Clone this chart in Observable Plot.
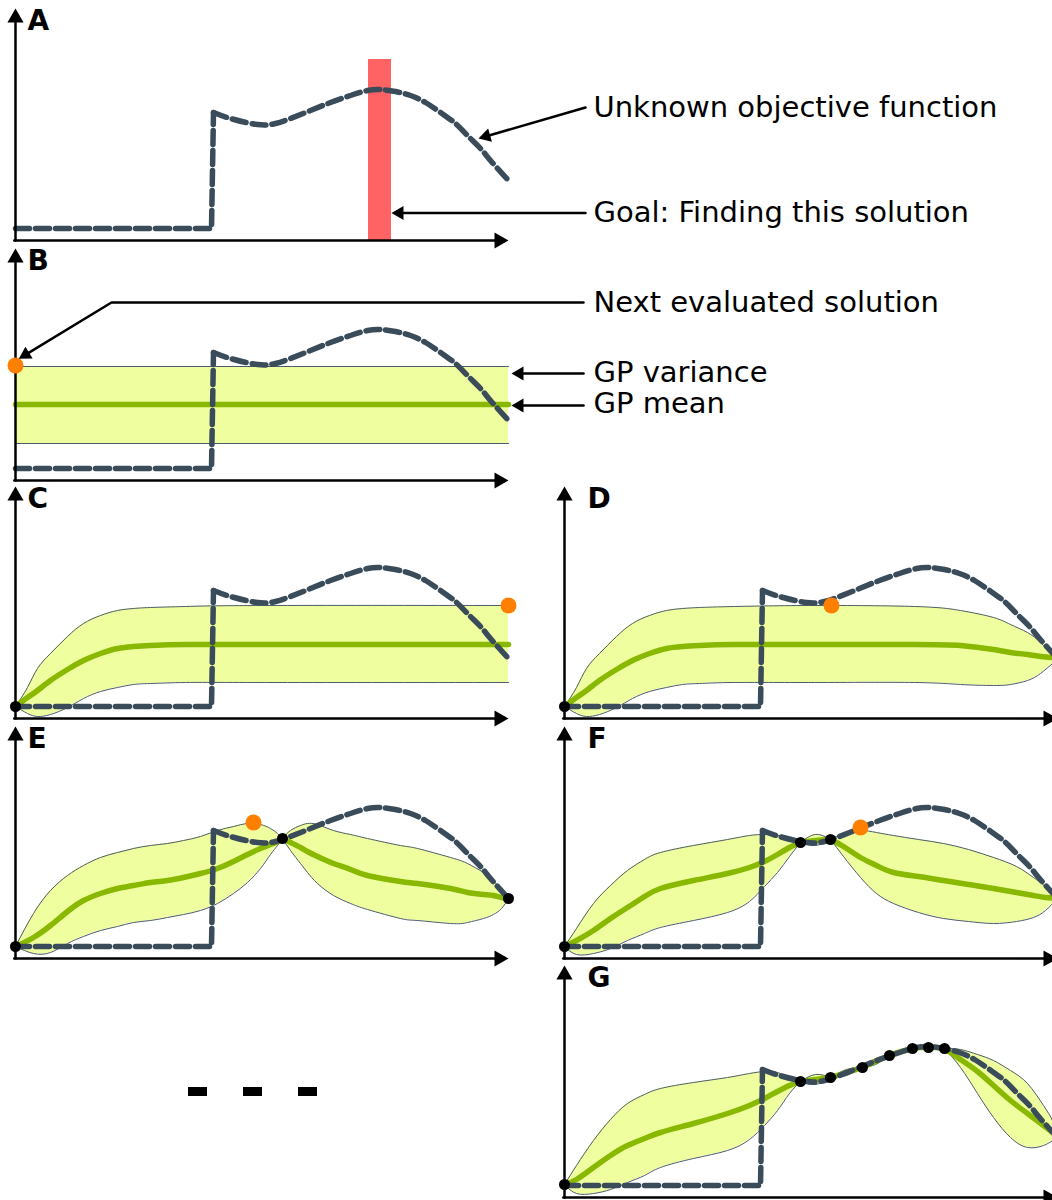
<!DOCTYPE html>
<html><head><meta charset="utf-8">
<script src="https://cdn.jsdelivr.net/npm/d3@7"></script>
<script src="https://cdn.jsdelivr.net/npm/@observablehq/plot@0.6"></script>
<style>
html,body{margin:0;padding:0;background:#fff;overflow:hidden}
#root{position:relative;width:1052px;height:1200px;overflow:hidden;background:#fff}
#root > div{position:absolute;line-height:0}
#root svg{max-width:none !important}
</style></head><body><div id="root"></div>
<script>
// ---------------- data (x: design-space units 0..493, y: objective units above the axis) ----------------
const objStepX = [0, 196, 198];
const objStepY = [12, 12, 128];
const objX = [198, 215, 242, 260, 275, 295, 315, 335, 352, 365, 380, 395, 410, 425, 440, 452, 465, 475, 493];
const objY = [128, 122, 116, 117, 122, 130, 138, 145, 150, 151, 149, 145, 138, 128, 117, 105, 92, 80, 60];
const goalX = [353, 376];
const goalTop = 181;

// GP rows: [x, lower, mean, upper]
const B_band = [[0, 37, 76, 114], [493, 37, 76, 114]];
const C_band = [[0,12,12,12],[12,5,21,31],[22,2,28,50],[35,4,38,65],[52,11,49,82],[68,20,58,95],[85,27,65,103],[102,31,70,108],[118,34,72,110],[135,35,73,111],[170,36,74,112],[250,36,74,113],[493,36,74,113]];
const D_band = [[0,12,12,12],[12,5,21,31],[22,2,28,50],[35,4,38,65],[52,11,49,82],[68,20,58,95],[85,27,65,103],[102,31,70,108],[118,34,72,110],[135,35,73,111],[170,36,74,112],[250,36,74,113],[350,36,74,112],[396,34,73,108],[429,33,69,101],[446,34,66,94],[463,38,64,86],[476,45,62,76],[488,55,61,64],[493,60,60,60]];
const E_seg1 = [[0,12,12,12],[18,5,21,45],[35,6,33,68],[52,15,47,83],[68,22,58,93],[85,28,65,101],[102,32,70,106],[118,36,73,110],[135,38,76,113],[152,41,78,115],[168,44,81,118],[185,48,85,122],[202,55,90,128],[218,65,97,132],[232,76,104,135],[245,90,110,134],[255,104,114,130],[262,113,117,125],[267,120,120,120]];
const E_seg2 = [[267,120,120,120],[275,108,116,128],[285,95,111,133],[292,86,107,135],[302,75,102,134],[318,63,95,128],[335,55,89,124],[352,49,83,120],[385,40,77,113],[402,38,75,110],[435,35,70,101],[452,36,66,95],[468,40,64,86],[478,44,63,78],[486,50,61,68],[493,60,60,60]];
const F_seg1 = [[0,12,12,12],[12,4,18,30],[29,5,28,55],[46,10,40,73],[63,18,51,88],[80,25,62,99],[96,31,70,106],[129,38,78,113],[163,46,85,119],[185,57,91,123],[200,72,97,124],[213,86,104,123],[225,102,111,120],[236,116,116,116]];
const F_seg2 = [[236,116,116,116],[251,113,118,124],[266,119,119,119]];
const F_seg3 = [[266,119,119,119],[279,102,112,125],[296,81,101,128],[312,65,93,126],[329,55,86,123],[354,46,82,119],[379,40,78,115],[404,37,74,109],[429,35,70,101],[452,37,66,92],[469,41,63,81],[481,48,61,72],[493,60,60,60]];
const G_seg1 = [[0,13,13,13],[12,4,18,32],[29,4,30,57],[46,8,42,78],[63,15,52,94],[80,22,59,103],[96,30,65,109],[129,39,74,115],[163,47,84,120],[185,58,92,124],[200,72,99,126],[213,87,106,125],[225,104,112,120],[236,116,116,116]];
const G_lenses = [
  [[236,116,116,116],[251,113,118,123],[266,120,120,120]],
  [[266,120,120,120],[282,122,125,128],[298,130,130,130]],
  [[298,130,130,130],[311,133,136,139],[325,142,142,142]],
  [[325,142,142,142],[337,144,146,148],[348,149,149,149]],
  [[348,149,149,149],[356,149,150,151.5],[364,150,150,150]],
  [[364,150,150,150],[372,149,150,151.5],[380,149,149,149]]
];
const G_seg2 = [[380,149,149,149],[396,130,138,148],[413,104,126,143],[429,80,112,137],[446,60,97,127],[463,50,84,114],[479,52,72,92],[488,57,65,77],[493,62,62,62]];

// evaluated points [x, y] and next candidate
const C_evals = [[0,12]];
const D_evals = [[0,12],[493,60]];
const E_evals = [[0,12],[267,120],[493,60]];
const F_evals = [[0,12],[236,116],[266,119],[493,60]];
const G_evals = [[0,13],[236,116],[266,120],[298,130],[325,142],[348,149],[364,150],[380,149],[493,62]];
const B_next = [0,115];
const C_next = [493,113];
const D_next = [267,113];
const E_next = [238,136];
const F_next = [296,131];

const panelLetters = ["A","B","C","D","E","F","G"];
const A_texts = ["Unknown objective function", "Goal: Finding this solution"];
const B_texts = ["Next evaluated solution", "GP variance", "GP mean"];
const ellipsisX = [0, 55, 110];

// ---------------- styles ----------------
const FONT = "DejaVu Sans";
const DASH = "#3a4b5a";
const GREEN = "#88b800";
const BAND = "#efffa0";
const EDGE = "#4d5c6b";
const ORANGE = "#ff7f00";
const W = 493, H = 232;

function arrow(pts, head, strokeWidth) {
  const n = pts.length;
  const [x1, y1] = pts[n-2], [x2, y2] = pts[n-1];
  const sx = x2 - x1, sy = -(y2 - y1);
  const L = Math.hypot(sx, sy), ux = sx / L, uy = sy / L;
  const k = head - 2;
  const line = pts.slice(0, n-1).concat([[x2 - ux*k, y2 + uy*k]]);
  const yy = head / 3;
  const r = Math.sqrt(3*Math.sqrt(3)/Math.PI) * yy;
  const phi = Math.atan2(uy, ux) * 180 / Math.PI;
  return [
    Plot.line(line, {x: d => d[0], y: d => d[1], stroke: "black", strokeWidth, strokeLinejoin: "miter"}),
    Plot.dot([[x2, y2]], {x: d => d[0], y: d => d[1], symbol: "triangle", r, fill: "black", stroke: "none",
      rotate: phi + 90, dx: -2*yy*ux, dy: -2*yy*uy})
  ];
}

function panel(p) {
  const rows = (p.band || []).flatMap((seg, i) => seg.map(r => ({x: r[0], lo: r[1], mu: r[2], hi: r[3], seg: i})));
  const marks = [];
  const curve = "natural";
  if (p.goal) marks.push(Plot.rect([0], {x1: goalX[0], x2: goalX[1], y1: 0, y2: goalTop, fill: "#ff6363"}));
  if (rows.length) {
    marks.push(Plot.areaY(rows, {x: "x", y1: "lo", y2: "hi", z: "seg", fill: BAND, curve}));
    marks.push(Plot.line(rows, {x: "x", y: "hi", z: "seg", stroke: EDGE, strokeWidth: 1, curve}));
    marks.push(Plot.line(rows, {x: "x", y: "lo", z: "seg", stroke: EDGE, strokeWidth: 1, curve}));
    marks.push(Plot.line(rows, {x: "x", y: "mu", z: "seg", stroke: GREEN, strokeWidth: 5.5, curve}));
  }
  marks.push(Plot.line(objStepX.map((x, i) => [x, objStepY[i]]), {x: d => d[0], y: d => d[1], stroke: DASH, strokeWidth: 5.5, strokeDasharray: "14,6", strokeLinejoin: "miter"}));
  marks.push(Plot.line(objX.map((x, i) => [x, objY[i]]), {x: d => d[0], y: d => d[1], stroke: DASH, strokeWidth: 5.5, strokeDasharray: "14,6", curve}));
  marks.push(...arrow([[-1.25, 0], [W, 0]], 14, 2.5));
  marks.push(...arrow([[0, 0], [0, H]], 14, 2.5));
  if (p.evals) marks.push(Plot.dot(p.evals, {x: d => d[0], y: d => d[1], r: 5.5, fill: "black", stroke: "none"}));
  if (p.next) marks.push(Plot.dot([p.next], {x: d => d[0], y: d => d[1], r: 8, fill: ORANGE, stroke: "none"}));
  marks.push(Plot.text([p.letter], {x: p.lx, y: 219, text: d => d, textAnchor: "start", fontWeight: "bold", fontSize: 28, fontFamily: FONT, fill: "black"}));
  if (p.texts) {
    marks.push(Plot.text(p.texts, {x: 578, y: d => d[1], text: d => d[0], textAnchor: "start", fontSize: 29, fontFamily: FONT, fill: "black"}));
    for (const a of p.arrows) marks.push(...arrow(a, 12, 2.5));
  }
  const width = p.wide ? 1052 : 523;
  const svg = Plot.plot({
    width, height: H + 20,
    marginLeft: 15, marginRight: width - 15 - W, marginTop: 10, marginBottom: 10,
    x: {domain: [0, W], range: [15, 15 + W], axis: null},
    y: {domain: [0, H], range: [H + 10, 10], axis: null},
    style: {background: "transparent", fontFamily: FONT, overflow: "visible", maxWidth: "none"},
    marks
  });
  const div = document.createElement("div");
  div.style.left = (p.x0 - 15) + "px";
  div.style.top = (p.T - 10) + "px";
  div.style.width = width + "px";
  div.appendChild(svg);
  document.getElementById("root").appendChild(div);
}

const panels = [
  {letter: panelLetters[0], x0: 15, T: 8, lx: 12, wide: true, goal: true,
   texts: [[A_texts[0], 132.5], [A_texts[1], 27.3]],
   arrows: [[[570, 133], [463, 102]], [[570, 27.5], [376, 27.5]]]},
  {letter: panelLetters[1], x0: 15, T: 248, lx: 12, wide: true, band: [B_band], next: B_next,
   texts: [[B_texts[0], 177.3], [B_texts[1], 107.3], [B_texts[2], 76.3]],
   arrows: [[[568, 178], [96, 178], [3.3, 121.7]], [[568, 107], [496, 107]], [[568, 75], [496, 75]]]},
  {letter: panelLetters[2], x0: 15, T: 486, lx: 12, band: [C_band], evals: C_evals, next: C_next},
  {letter: panelLetters[3], x0: 564, T: 486, lx: 23, band: [D_band], evals: D_evals, next: D_next},
  {letter: panelLetters[4], x0: 15, T: 726, lx: 12, band: [E_seg1, E_seg2], evals: E_evals, next: E_next},
  {letter: panelLetters[5], x0: 564, T: 726, lx: 23, band: [F_seg1, F_seg2, F_seg3], evals: F_evals, next: F_next},
  {letter: panelLetters[6], x0: 564, T: 965, lx: 23, band: [G_seg1, ...G_lenses, G_seg2], evals: G_evals}
];
panels.forEach(panel);

// ellipsis
const ell = Plot.plot({
  width: 129, height: 9, margin: 0,
  x: {domain: [0, 129], range: [0, 129], axis: null},
  y: {domain: [0, 1], range: [9, 0], axis: null},
  style: {background: "transparent", maxWidth: "none"},
  marks: [Plot.rect(ellipsisX, {x1: d => d, x2: d => d + 19, y1: 0, y2: 1, fill: "black"})]
});
const ed = document.createElement("div");
ed.style.left = "188px"; ed.style.top = "1087px";
ed.appendChild(ell);
document.getElementById("root").appendChild(ed);
</script></body></html>
